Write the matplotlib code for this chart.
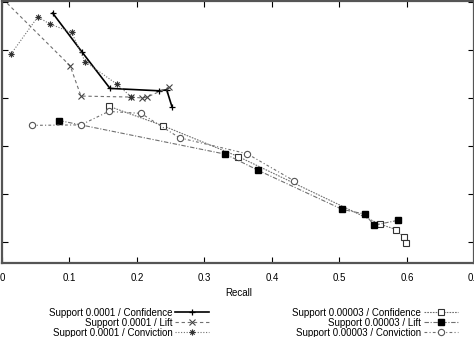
import numpy as np
import matplotlib
matplotlib.use('Agg')
import matplotlib.pyplot as plt
from matplotlib.path import Path

plt.rcParams['font.family'] = ['Liberation Sans', 'DejaVu Sans']
plt.rcParams['font.size'] = 7

# recall / precision pairs for each rule-ranking setup
s1_conf_recall = [0.075, 0.119, 0.160, 0.233, 0.244, 0.252]
s1_conf_prec = [0.577, 0.495, 0.420, 0.415, 0.417, 0.381]

s1_lift_recall = [0.000, 0.101, 0.117, 0.191, 0.208, 0.215, 0.247]
s1_lift_prec = [0.608, 0.467, 0.404, 0.402, 0.400, 0.402, 0.422]

s1_conv_recall = [0.013, 0.053, 0.071, 0.103, 0.123, 0.170, 0.191]
s1_conv_prec = [0.491, 0.569, 0.554, 0.537, 0.476, 0.429, 0.403]

s2_conf_recall = [0.158, 0.239, 0.350, 0.560, 0.584, 0.595, 0.599]
s2_conf_prec = [0.383, 0.342, 0.278, 0.137, 0.126, 0.110, 0.097]

s2_lift_recall = [0.085, 0.331, 0.380, 0.504, 0.538, 0.551, 0.586]
s2_lift_prec = [0.353, 0.283, 0.249, 0.168, 0.158, 0.135, 0.145]

s2_conv_recall = [0.044, 0.117, 0.158, 0.206, 0.263, 0.363, 0.432]
s2_conv_prec = [0.343, 0.344, 0.372, 0.368, 0.317, 0.284, 0.228]

labels = ['Support 0.0001 / Confidence', 'Support 0.0001 / Lift',
          'Support 0.0001 / Conviction', 'Support 0.00003 / Confidence',
          'Support 0.00003 / Lift', 'Support 0.00003 / Conviction']

xticks = [0, 0.1, 0.2, 0.3, 0.4, 0.5, 0.6, 0.7]
xtick_labels = ['0', '0.1', '0.2', '0.3', '0.4', '0.5', '0.6', '0.7']
yticks = [0.1, 0.2, 0.3, 0.4, 0.5, 0.6]

# gnuplot style asterisk: plus and cross on top of each other
star = Path([(-1, 0), (1, 0), (0, -1), (0, 1), (-0.7, -0.7), (0.7, 0.7), (-0.7, 0.7), (0.7, -0.7)],
            [Path.MOVETO, Path.LINETO] * 4)

fig = plt.figure(figsize=(4.74, 3.37), dpi=100)
ax = fig.add_axes([2 / 474, 74 / 337, 472.5 / 474, 262 / 337])

grey = '#707070'
ax.plot(s1_conf_recall, s1_conf_prec, color='black', lw=1.2, marker='+', ms=4, mew=0.9,
        label=labels[0])
ax.plot(s1_lift_recall, s1_lift_prec, color=grey, lw=0.8, ls=(0, (3, 2.5)), marker='x', ms=4,
        mew=0.8, mec='#444444', label=labels[1])
ax.plot(s1_conv_recall, s1_conv_prec, color=grey, lw=0.8, ls=(0, (1, 1.5)), marker=star, ms=4.5,
        mew=0.8, mec='#333333', label=labels[2])
ax.plot(s2_conf_recall, s2_conf_prec, color=grey, lw=0.8, ls=(0, (1.5, 1)), marker='s', ms=4.5,
        mfc='white', mec='#333333', mew=0.8, label=labels[3])
ax.plot(s2_lift_recall, s2_lift_prec, color=grey, lw=0.8, ls=(0, (4, 1.5, 1, 1.5)), marker='s',
        ms=4.2, mfc='black', mec='black', label=labels[4])
ax.plot(s2_conv_recall, s2_conv_prec, color=grey, lw=0.8, ls=(0, (2.5, 2, 1, 2)), marker='o',
        ms=4.5, mfc='white', mec='#555555', mew=0.8, label=labels[5])

ax.set_xlim(0, 0.7)
ax.set_ylim(0.05625, 0.6021)
ax.set_xticks(xticks)
ax.set_xticklabels(xtick_labels)
ax.set_yticks(yticks)
ax.tick_params(direction='in', length=4, width=0.8, top=True, right=True, pad=7,
               colors='black', labelsize=7)
ax.tick_params(axis='y', labelleft=False)
for sp in ax.spines.values():
    sp.set_color('#555555')
    sp.set_linewidth(1.6)

ax.set_xlabel('Recall', fontsize=7)
ax.xaxis.set_label_coords(0.5, -0.095)

fig.legend(loc='upper left', bbox_to_anchor=(49 / 474, 1 - 307.5 / 337), ncol=2,
           frameon=False, markerfirst=False, borderpad=0, borderaxespad=0,
           handlelength=3.5, handletextpad=0.3, columnspacing=8.5, labelspacing=0.0,
           fontsize=7, numpoints=1)

fig.savefig('out.png', dpi=100)
